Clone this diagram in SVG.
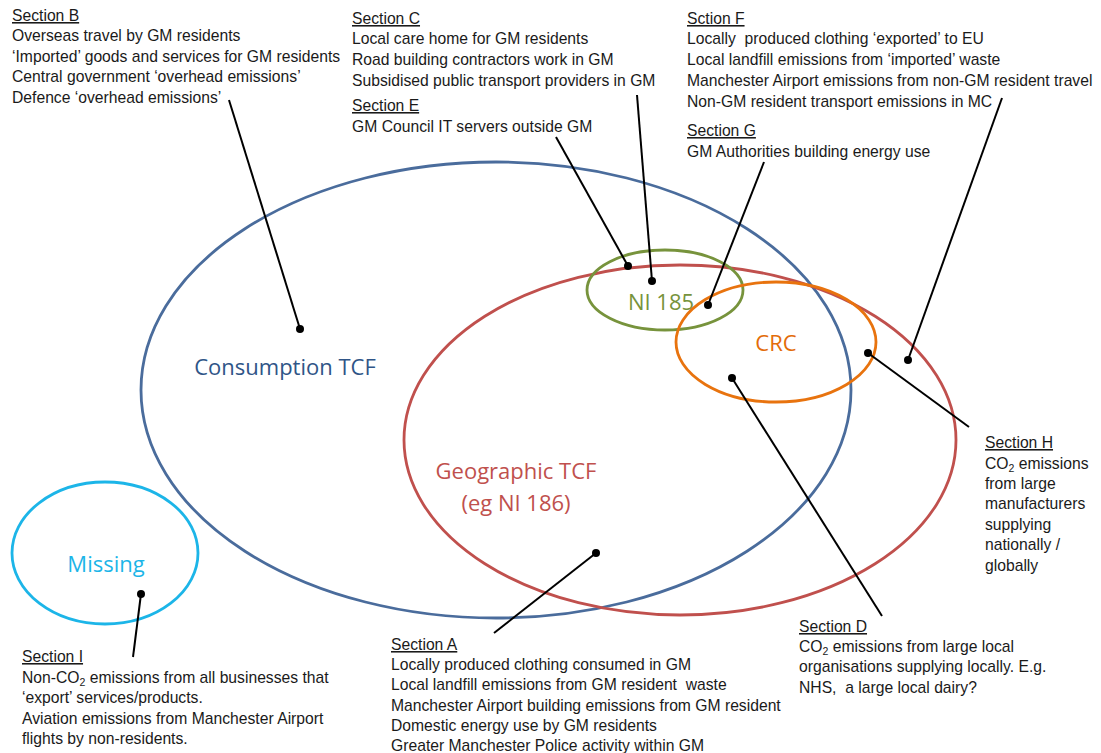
<svg xmlns="http://www.w3.org/2000/svg" width="1101" height="753" viewBox="0 0 1101 753">
<style>
text{font-family:"Liberation Sans",Arial,sans-serif;font-size:15.7px;fill:#1a1a1a;white-space:pre}
.h{text-decoration:underline}
.lbl{font-family:"Open Sans","Liberation Sans",sans-serif;font-size:22px;text-anchor:middle}
.ell{fill:none;stroke-width:2.8}
.con line{stroke:#000;stroke-width:2}
.con circle{fill:#000}
.sub{font-size:10.5px}
</style>
<rect width="1101" height="753" fill="#fff"/>
<g id="consumption"><ellipse class="ell" cx="496" cy="390" rx="355" ry="228" stroke="#4a6c9c"/><text class="lbl" x="285" y="375" style="fill:#2f5587">Consumption TCF</text></g>
<g id="geographic"><ellipse class="ell" cx="680" cy="440" rx="276" ry="175" stroke="#c0504d"/><text class="lbl" x="516" y="479" style="fill:#c0504d">Geographic TCF</text><text class="lbl" x="516" y="511" style="fill:#c0504d">(eg NI 186)</text></g>
<g id="ni185"><ellipse class="ell" cx="665" cy="290" rx="78" ry="40" stroke="#77933c"/><text class="lbl" x="661" y="310" style="fill:#77933c">NI 185</text></g>
<g id="crc"><ellipse class="ell" cx="776" cy="342" rx="100" ry="60" stroke="#e8730e"/><text class="lbl" x="776" y="351" style="fill:#e36c09">CRC</text></g>
<g id="missing"><ellipse class="ell" cx="105" cy="553" rx="93" ry="71" stroke="#1cb5e8"/><text class="lbl" x="106" y="572" style="fill:#1cb5e8">Missing</text></g>
<g id="connectors" class="con">
<line x1="229" y1="100" x2="300" y2="329"/><circle cx="300" cy="329" r="4"/>
<line x1="556" y1="137" x2="628" y2="266"/><circle cx="628" cy="266" r="4"/>
<line x1="637" y1="95" x2="652" y2="281"/><circle cx="652" cy="281" r="4"/>
<line x1="764" y1="162" x2="708" y2="305"/><circle cx="708" cy="305" r="4"/>
<line x1="1002" y1="98" x2="908" y2="360"/><circle cx="908" cy="360" r="4"/>
<line x1="969" y1="427" x2="868" y2="353"/><circle cx="868" cy="353" r="4"/>
<line x1="882" y1="616" x2="732" y2="378"/><circle cx="732" cy="378" r="4"/>
<line x1="494" y1="633" x2="596" y2="553"/><circle cx="596" cy="553" r="4"/>
<line x1="133" y1="657" x2="141" y2="594"/><circle cx="141" cy="594" r="4"/>
</g>
<g id="sectionB"><text class="h" x="12" y="21">Section B</text><text x="12" y="41">Overseas travel by GM residents</text><text x="12" y="62">‘Imported’ goods and services for GM residents</text><text x="12" y="82">Central government ‘overhead emissions’</text><text x="12" y="103">Defence ‘overhead emissions’</text></g>
<g id="sectionC"><text class="h" x="352" y="24">Section C</text><text x="352" y="44">Local care home for GM residents</text><text x="352" y="65">Road building contractors work in GM</text><text x="352" y="86">Subsidised public transport providers in GM</text></g>
<g id="sectionE"><text class="h" x="352" y="111">Section E</text><text x="352" y="132">GM Council IT servers outside GM</text></g>
<g id="sectionF"><text class="h" x="687" y="24">Sction F</text><text x="687" y="44">Locally  produced clothing ‘exported’ to EU</text><text x="687" y="65">Local landfill emissions from ‘imported’ waste</text><text x="687" y="86">Manchester Airport emissions from non-GM resident travel</text><text x="687" y="107">Non-GM resident transport emissions in MC</text></g>
<g id="sectionG"><text class="h" x="687" y="136">Section G</text><text x="687" y="157">GM Authorities building energy use</text></g>
<g id="sectionH"><text class="h" x="985" y="448">Section H</text><text x="985" y="469">CO<tspan class="sub" dy="3">2</tspan><tspan dy="-3"> emissions</tspan></text><text x="985" y="489">from large</text><text x="985" y="509">manufacturers</text><text x="985" y="530">supplying</text><text x="985" y="550">nationally /</text><text x="985" y="571">globally</text></g>
<g id="sectionD"><text class="h" x="799" y="632">Section D</text><text x="799" y="652">CO<tspan class="sub" dy="3">2</tspan><tspan dy="-3"> emissions from large local</tspan></text><text x="799" y="672">organisations supplying locally. E.g.</text><text x="799" y="693">NHS,  a large local dairy?</text></g>
<g id="sectionA"><text class="h" x="391" y="650">Section A</text><text x="391" y="670">Locally produced clothing consumed in GM</text><text x="391" y="690">Local landfill emissions from GM resident  waste</text><text x="391" y="711">Manchester Airport building emissions from GM resident</text><text x="391" y="731">Domestic energy use by GM residents</text><text x="391" y="751">Greater Manchester Police activity within GM</text></g>
<g id="sectionI"><text class="h" x="22" y="662">Section I</text><text x="22" y="683">Non-CO<tspan class="sub" dy="3">2</tspan><tspan dy="-3"> emissions from all businesses that</tspan></text><text x="22" y="703">‘export’ services/products.</text><text x="22" y="724">Aviation emissions from Manchester Airport</text><text x="22" y="744">flights by non-residents.</text></g>
</svg>
